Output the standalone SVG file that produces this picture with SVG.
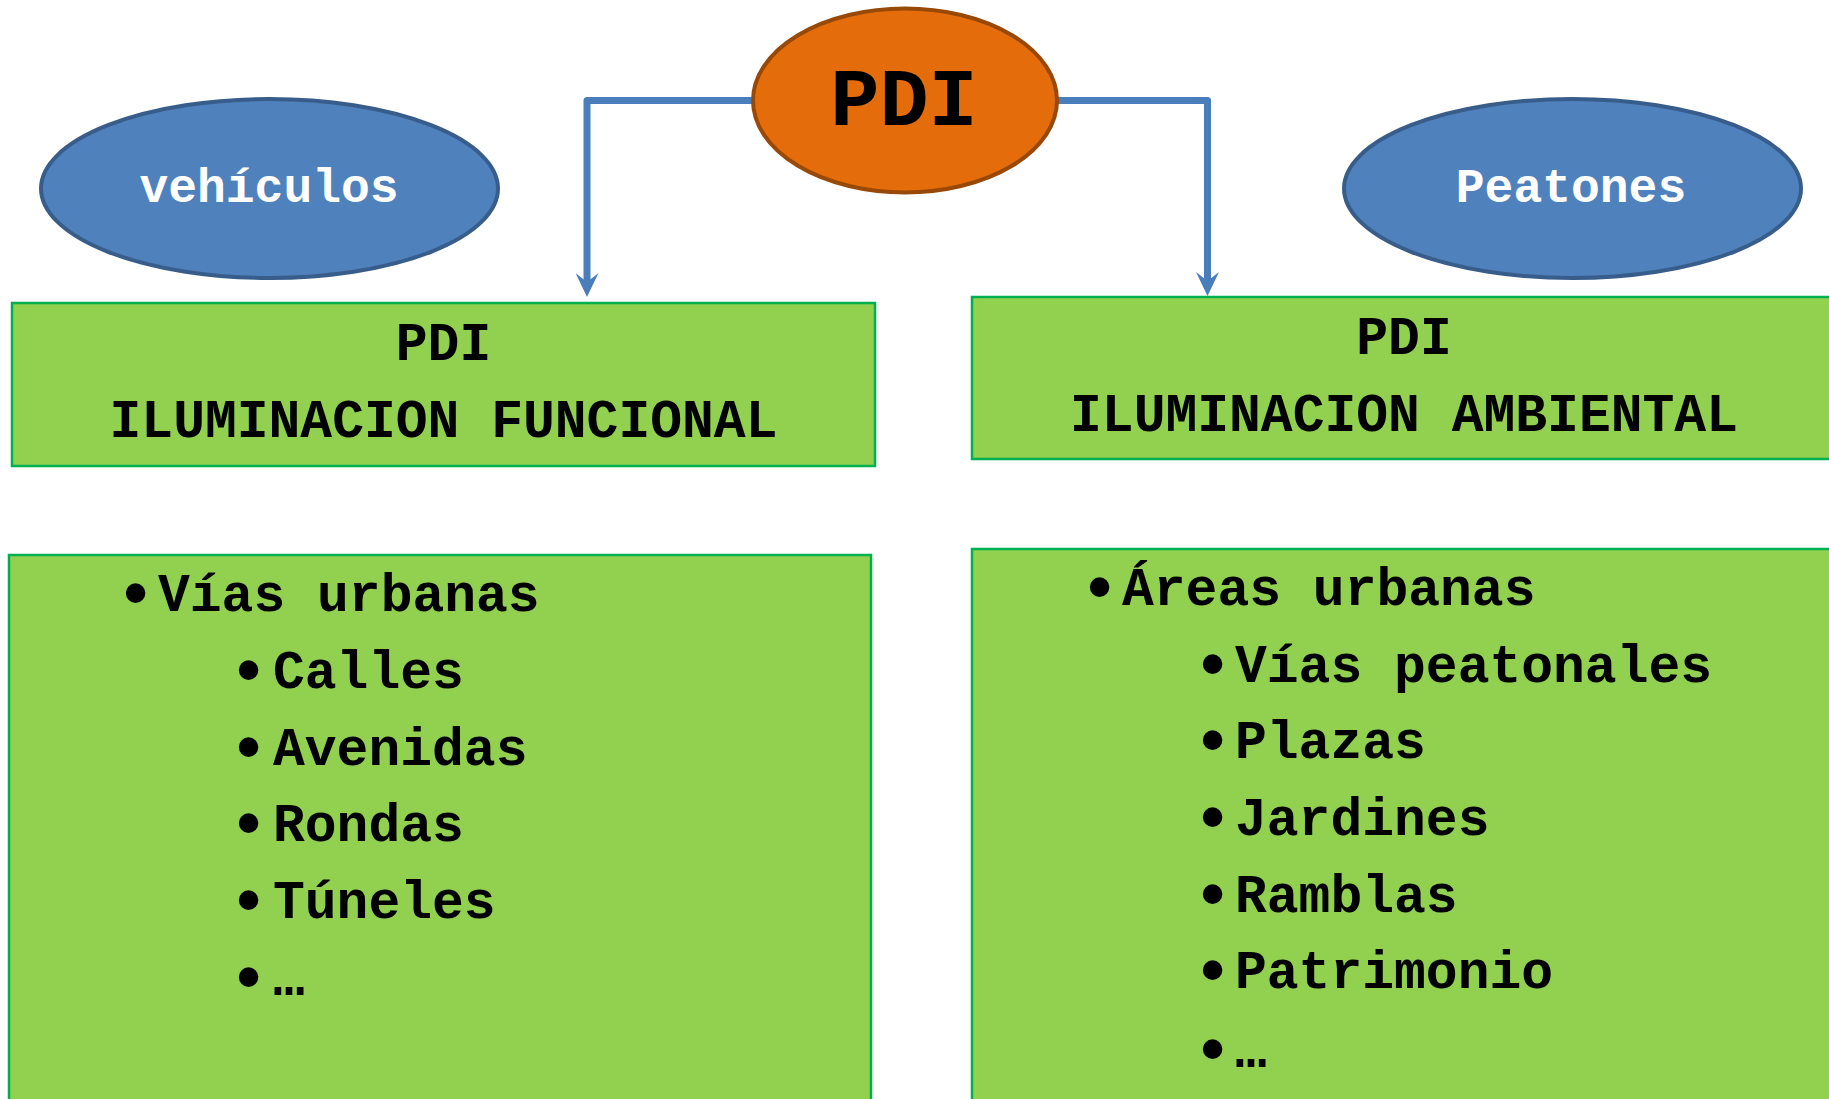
<svg xmlns="http://www.w3.org/2000/svg" width="1829" height="1099" viewBox="0 0 1829 1099">
<style>
.mono{font-family:"Liberation Mono","Courier New",monospace;font-weight:bold;fill:#000}
.hdr{font-size:53px;text-anchor:middle}
.item{font-size:53px}
.bul{font-family:"Liberation Sans",Arial,sans-serif;font-size:72px;fill:#000}
.oval{font-size:48px;text-anchor:middle;fill:#fff}
.box{fill:#92D050;stroke:#00B050;stroke-width:2.5}
.blue{fill:#4F81BD;stroke:#385D8A;stroke-width:4}
.conn{fill:none;stroke:#4A7EBB;stroke-width:7;stroke-linejoin:round}
</style>
<defs>
<marker id="arr" viewBox="0 0 24 23" refX="12" refY="11.5" markerWidth="24" markerHeight="23" markerUnits="userSpaceOnUse" orient="auto">
<path d="M0,0 L24,11.5 L0,23 L9,11.5 z" fill="#4A7EBB"/>
</marker>
</defs>
<rect width="1829" height="1099" fill="#fff"/>
<g id="connectors">
<path class="conn" d="M753,100.5 H587 V285" marker-end="url(#arr)"/>
<path class="conn" d="M1056,100.5 H1207.5 V284" marker-end="url(#arr)"/>
</g>
<g id="pdi">
<ellipse cx="905" cy="100.5" rx="152" ry="92" fill="#E46C0A" stroke="#984807" stroke-width="4"/>
<text class="mono" x="904" y="125" font-size="82" text-anchor="middle">PDI</text>
</g>
<g id="vehiculos">
<ellipse class="blue" cx="269.5" cy="188.5" rx="228.5" ry="89.5"/>
<text class="mono oval" x="269" y="202">vehículos</text>
</g>
<g id="peatones">
<ellipse class="blue" cx="1572.5" cy="188.5" rx="228.5" ry="89.5"/>
<text class="mono oval" x="1571" y="202">Peatones</text>
</g>
<g id="funcional">
<rect class="box" x="12" y="303" width="863" height="163"/>
<text class="mono hdr" x="443.5" y="360">PDI</text>
<text class="mono hdr" x="443.5" y="437">ILUMINACION FUNCIONAL</text>
</g>
<g id="ambiental">
<rect class="box" x="972" y="297" width="870" height="162"/>
<text class="mono hdr" x="1404" y="354">PDI</text>
<text class="mono hdr" x="1404" y="431">ILUMINACION AMBIENTAL</text>
</g>
<g id="lista-vehiculos">
<rect class="box" x="9" y="555" width="862" height="560"/>
<text class="bul" x="123" y="617">•</text>
<text class="mono item" x="158" y="611">Vías urbanas</text>
<text class="bul" x="236" y="694">•</text>
<text class="mono item" x="273" y="688">Calles</text>
<text class="bul" x="236" y="771">•</text>
<text class="mono item" x="273" y="765">Avenidas</text>
<text class="bul" x="236" y="847">•</text>
<text class="mono item" x="273" y="841">Rondas</text>
<text class="bul" x="236" y="924">•</text>
<text class="mono item" x="273" y="918">Túneles</text>
<text class="bul" x="236" y="1001">•</text>
<text class="mono item" x="273" y="995">…</text>
</g>
<g id="lista-peatones">
<rect class="box" x="972" y="549" width="870" height="566"/>
<text class="bul" x="1087" y="611">•</text>
<text class="mono item" x="1122" y="605">Áreas urbanas</text>
<text class="bul" x="1200" y="688">•</text>
<text class="mono item" x="1235" y="682">Vías peatonales</text>
<text class="bul" x="1200" y="764">•</text>
<text class="mono item" x="1235" y="758">Plazas</text>
<text class="bul" x="1200" y="841">•</text>
<text class="mono item" x="1235" y="835">Jardines</text>
<text class="bul" x="1200" y="918">•</text>
<text class="mono item" x="1235" y="912">Ramblas</text>
<text class="bul" x="1200" y="994">•</text>
<text class="mono item" x="1235" y="988">Patrimonio</text>
<text class="bul" x="1200" y="1073">•</text>
<text class="mono item" x="1235" y="1067">…</text>
</g>
</svg>
